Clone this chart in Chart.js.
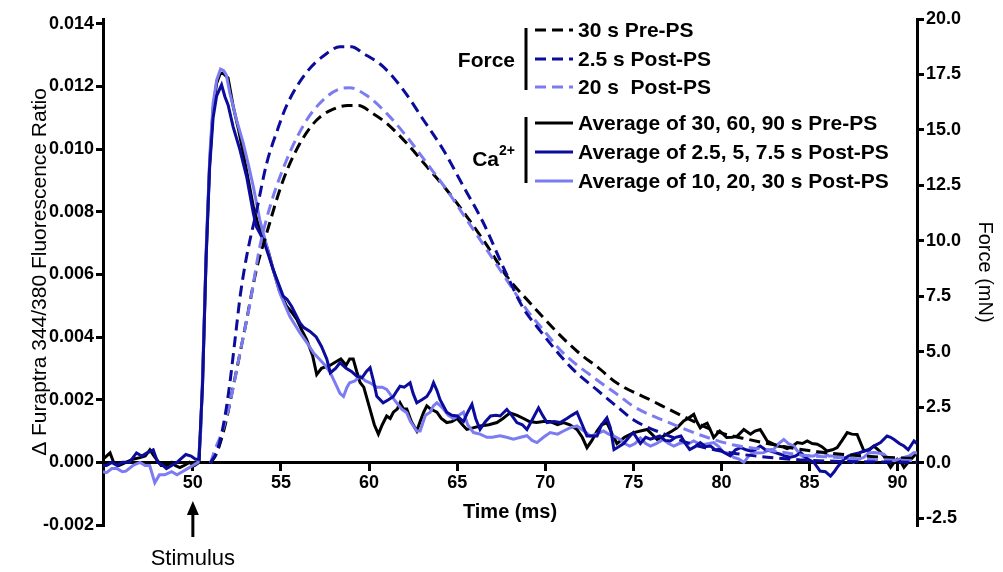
<!DOCTYPE html>
<html>
<head>
<meta charset="utf-8">
<script src="https://cdn.jsdelivr.net/npm/chart.js@4.4.1/dist/chart.umd.min.js"></script>
<style>
  html, body { margin: 0; padding: 0; background: #fff; }
  canvas { display: block; }
</style>
</head>
<body>
<canvas id="chart" width="1003" height="572"></canvas>
<script>
// [time (ms), value] pairs
const caPreAvg = [
  [44.9, 0.0001], [45.1, 0.0002], [45.3, 0.0003], [45.5, 0.0], [45.8, -0.0001], [46.2, 0.0],
  [46.6, 0.0001], [47.0, 0.00015], [47.3, 0.0002], [47.56, 0.0004], [47.8, 0.0002], [48.2, -0.0001],
  [48.5, -0.0001], [48.8, 0.0], [49.0, -0.0001], [49.26, -0.00017], [49.5, -0.0001], [49.8, 0.0],
  [50.1, -0.0001], [50.35, 0.0], [50.55, 0.0025], [50.75, 0.0065], [50.95, 0.0095], [51.15, 0.0113],
  [51.35, 0.0121], [51.55, 0.0124], [51.7, 0.01242], [52.0, 0.01227], [52.29, 0.01136], [52.6, 0.0106],
  [52.86, 0.00987], [53.15, 0.009], [53.43, 0.00817], [53.7, 0.0076], [54.0, 0.00721], [54.3, 0.0067],
  [54.56, 0.00615], [54.9, 0.0055], [55.32, 0.00498], [55.6, 0.0048], [55.9, 0.00456], [56.2, 0.0042],
  [56.46, 0.00392], [56.8, 0.0034], [57.03, 0.0028], [57.3, 0.003], [57.8, 0.0031], [58.1, 0.0032],
  [58.4, 0.0033], [58.7, 0.0031], [58.9, 0.0033], [59.1, 0.0033], [59.3, 0.0029], [59.49, 0.00255],
  [59.7, 0.0024], [60.0, 0.0018], [60.3, 0.0012], [60.53, 0.0009], [60.75, 0.0012], [61.0, 0.00148],
  [61.2, 0.0014], [61.38, 0.0016], [61.6, 0.0017], [61.76, 0.0019], [61.95, 0.0017], [62.14, 0.0017],
  [62.4, 0.0013], [62.71, 0.001], [62.9, 0.0013], [63.1, 0.0016], [63.28, 0.0018], [63.5, 0.0017],
  [63.85, 0.0016], [64.1, 0.0014], [64.41, 0.00127], [64.7, 0.0013], [65.0, 0.0014], [65.3, 0.0012],
  [65.55, 0.00105], [65.9, 0.0011], [66.3, 0.00116], [66.8, 0.0012], [67.26, 0.00127], [67.6, 0.0014],
  [68.0, 0.00158], [68.4, 0.0015], [68.77, 0.0014], [69.1, 0.0013], [69.5, 0.00127], [69.9, 0.0013],
  [70.28, 0.0013], [70.7, 0.0012], [71.04, 0.00127], [71.4, 0.0012], [71.8, 0.00105], [72.1, 0.0008],
  [72.37, 0.00047], [72.65, 0.0007], [72.94, 0.001], [73.2, 0.0012], [73.5, 0.00127], [73.8, 0.0009],
  [74.07, 0.0006], [74.5, 0.0008], [75.02, 0.00095], [75.4, 0.001], [75.78, 0.00105], [76.05, 0.0009],
  [76.35, 0.00073], [76.6, 0.0008], [76.9, 0.0009], [77.2, 0.001], [77.48, 0.0011], [77.86, 0.00132],
  [78.1, 0.0014], [78.43, 0.00153], [78.6, 0.0013], [78.8, 0.0011], [79.0, 0.0012], [79.19, 0.00125],
  [79.4, 0.001], [79.56, 0.00079], [79.9, 0.001], [80.1, 0.0009], [80.3, 0.00079], [80.6, 0.0008],
  [80.9, 0.00084], [81.27, 0.00105], [81.65, 0.0009], [81.9, 0.001], [82.2, 0.00105], [82.6, 0.00068],
  [82.9, 0.0006], [83.17, 0.00052], [83.45, 0.0005], [83.73, 0.00044], [84.0, 0.0005], [84.3, 0.00063],
  [84.6, 0.0006], [84.87, 0.00068], [85.15, 0.0006], [85.44, 0.00058], [85.7, 0.0005], [86.0, 0.00036],
  [86.3, 0.0004], [86.57, 0.00047], [86.85, 0.0007], [87.14, 0.00095], [87.4, 0.0009], [87.7, 0.00089],
  [88.09, 0.00036], [88.35, 0.0004], [88.65, 0.00052], [88.9, 0.0004], [89.22, 0.0002], [89.6, -0.00016],
  [89.8, 0.0], [89.98, 0.0001], [90.2, 0.0], [90.36, -0.00016], [90.6, 0.0], [90.93, 0.0002], [91.1, 0.0003]
];

const caEarlyPostAvg = [
  [44.9, -0.0001], [45.1, -0.0001], [45.4, 0.0], [45.7, -0.0001], [46.0, 0.0], [46.4, 0.0],
  [46.8, 0.0003], [47.1, 0.0002], [47.4, 0.0003], [47.75, 0.0004], [48.0, 0.0], [48.3, -0.0001],
  [48.5, -0.0002], [48.8, -0.0001], [49.1, 0.0], [49.3, 0.0001], [49.6, 0.00025], [49.9, 0.0002],
  [50.15, 0.0001], [50.35, 0.0001], [50.55, 0.0025], [50.75, 0.0065], [50.95, 0.0094], [51.15, 0.011],
  [51.35, 0.0117], [51.63, 0.01205], [51.82, 0.01167], [52.0, 0.01141], [52.29, 0.0107], [52.67, 0.00998],
  [53.05, 0.00912], [53.43, 0.00796], [53.6, 0.00753], [54.0, 0.0071], [54.3, 0.0066], [54.56, 0.00615],
  [55.13, 0.0053], [55.35, 0.0052], [55.6, 0.00498], [56.08, 0.00445], [56.3, 0.0043], [56.65, 0.00418],
  [57.0, 0.004], [57.3, 0.0037], [57.6, 0.0033], [57.8, 0.00286], [58.1, 0.003], [58.35, 0.00318],
  [58.7, 0.003], [59.0, 0.0029], [59.3, 0.00275], [59.6, 0.0027], [59.85, 0.0029], [60.06, 0.00302],
  [60.25, 0.0026], [60.44, 0.00211], [60.8, 0.0019], [61.1, 0.002], [61.38, 0.0021], [61.6, 0.0023],
  [61.76, 0.00243], [62.0, 0.0024], [62.33, 0.00254], [62.5, 0.0022], [62.71, 0.0019], [63.0, 0.002],
  [63.28, 0.0021], [63.5, 0.0023], [63.66, 0.00254], [63.85, 0.0023], [64.03, 0.002], [64.41, 0.0016],
  [64.7, 0.0015], [65.0, 0.00148], [65.36, 0.0013], [65.6, 0.0016], [65.84, 0.00185], [66.05, 0.0014],
  [66.3, 0.00105], [66.6, 0.0013], [66.9, 0.00148], [67.2, 0.0015], [67.44, 0.00148], [67.82, 0.00169],
  [68.1, 0.0015], [68.39, 0.00127], [68.7, 0.0012], [68.96, 0.00105], [69.3, 0.0014], [69.62, 0.00174],
  [69.85, 0.0015], [70.1, 0.00127], [70.5, 0.0013], [70.85, 0.00127], [71.23, 0.0014], [71.5, 0.0015],
  [71.8, 0.0016], [72.1, 0.0012], [72.37, 0.00084], [72.94, 0.00084], [73.2, 0.0012], [73.5, 0.00142],
  [73.7, 0.0011], [73.9, 0.00041], [74.17, 0.0005], [74.45, 0.0006], [74.75, 0.0008], [75.0, 0.00095],
  [75.4, 0.0006], [75.7, 0.0008], [75.97, 0.00074], [76.5, 0.00084], [76.8, 0.0007], [77.1, 0.00068],
  [77.4, 0.0008], [77.7, 0.00084], [77.95, 0.0006], [78.2, 0.00041], [78.5, 0.0005], [78.8, 0.00063],
  [79.1, 0.0005], [79.38, 0.00052], [79.65, 0.0004], [79.9, 0.00041], [80.2, 0.0003], [80.5, 0.00021],
  [80.8, 0.0004], [81.1, 0.00047], [81.4, 0.0004], [81.65, 0.00036], [81.9, 0.0004], [82.2, 0.00052],
  [82.5, 0.0004], [82.8, 0.00036], [83.1, 0.0003], [83.35, 0.00026], [83.6, 0.0002], [83.9, 0.00016],
  [84.2, 0.0002], [84.5, 0.00031], [84.9, 0.0001], [85.25, 0.0], [85.6, -0.00028], [85.9, -0.0003],
  [86.19, -0.00044], [86.4, -0.0003], [86.57, -0.00016], [86.95, 0.0001], [87.2, 0.0002], [87.5, 0.00026],
  [87.8, 0.0003], [88.1, 0.00036], [88.4, 0.0004], [88.65, 0.00052], [89.03, 0.00063], [89.4, 0.00084],
  [89.6, 0.0008], [89.8, 0.00073], [90.1, 0.0006], [90.36, 0.00052], [90.6, 0.0004], [90.93, 0.00068],
  [91.1, 0.0006]
];

const caLatePostAvg = [
  [44.9, -0.0003], [45.1, -0.00033], [45.4, -0.0002], [45.7, -0.0002], [46.0, -0.0003], [46.2, -0.00028],
  [46.6, -0.0001], [47.0, 0.0], [47.3, -0.0001], [47.55, -0.0001], [47.84, -0.00065], [48.1, -0.0004],
  [48.4, -0.0004], [48.8, -0.0003], [49.1, -0.0004], [49.4, -0.0003], [49.7, -0.0002], [50.0, -0.0001],
  [50.3, 0.0], [50.45, 0.001], [50.59, 0.0035], [50.78, 0.0072], [50.97, 0.00988], [51.15, 0.01146],
  [51.35, 0.0122], [51.57, 0.01255], [51.75, 0.0125], [51.9, 0.01236], [52.1, 0.01178], [52.48, 0.01093],
  [52.86, 0.01019], [53.15, 0.0095], [53.43, 0.0088], [53.8, 0.00774], [54.1, 0.0071], [54.4, 0.00647],
  [54.94, 0.0054], [55.5, 0.00466], [56.08, 0.00413], [56.5, 0.0038], [56.84, 0.0035], [57.2, 0.00328],
  [57.5, 0.0031], [57.8, 0.00286], [58.16, 0.00243], [58.35, 0.0022], [58.55, 0.0021], [58.75, 0.0024],
  [58.9, 0.00254], [59.2, 0.0026], [59.49, 0.00275], [59.8, 0.0026], [60.06, 0.00254], [60.44, 0.0024],
  [60.75, 0.0024], [61.0, 0.00233], [61.3, 0.0021], [61.57, 0.0019], [61.85, 0.0017], [62.14, 0.00158],
  [62.35, 0.0013], [62.52, 0.00116], [62.7, 0.001], [62.9, 0.001], [63.2, 0.0015], [63.47, 0.0016],
  [63.65, 0.0018], [63.85, 0.0019], [64.05, 0.0018], [64.22, 0.0017], [64.5, 0.0015], [64.8, 0.0014],
  [65.1, 0.0015], [65.36, 0.0016], [65.6, 0.0012], [65.93, 0.00095], [66.3, 0.0009], [66.69, 0.0008],
  [67.0, 0.0008], [67.44, 0.00085], [67.8, 0.0008], [68.2, 0.00074], [68.6, 0.0008], [68.96, 0.00085],
  [69.25, 0.0007], [69.53, 0.00063], [69.9, 0.0008], [70.28, 0.00095], [70.7, 0.0009], [71.04, 0.001],
  [71.4, 0.0011], [71.8, 0.00116], [72.2, 0.001], [72.56, 0.00084], [72.9, 0.0009], [73.3, 0.001],
  [73.6, 0.0009], [73.9, 0.00084], [74.26, 0.00073], [74.5, 0.0006], [74.8, 0.00052], [75.1, 0.0006],
  [75.4, 0.00078], [75.7, 0.0006], [75.97, 0.00052], [76.3, 0.0006], [76.7, 0.00073], [77.0, 0.0006],
  [77.3, 0.00052], [77.6, 0.0006], [77.86, 0.00063], [78.15, 0.0006], [78.43, 0.00068], [78.7, 0.0006],
  [79.0, 0.00057], [79.3, 0.0006], [79.56, 0.00063], [79.85, 0.0005], [80.13, 0.00031], [80.4, 0.0003],
  [80.7, 0.00016], [81.0, 0.0001], [81.27, 0.0], [81.55, 0.0002], [81.84, 0.00031], [82.1, 0.0003],
  [82.4, 0.00031], [82.7, 0.0004], [82.97, 0.00042], [83.25, 0.0006], [83.54, 0.00073], [83.8, 0.0006],
  [84.1, 0.00052], [84.4, 0.0003], [84.68, 0.00016], [84.95, 0.0002], [85.25, 0.0002], [85.5, 0.0003],
  [85.8, 0.00031], [86.1, 0.0002], [86.38, 0.0002], [86.65, 0.0002], [86.95, 0.00016], [87.2, 0.0001],
  [87.5, 0.0], [87.8, 0.0001], [88.09, 0.00016], [88.35, 0.0003], [88.65, 0.00031], [88.9, 0.0003],
  [89.22, 0.00026], [89.5, 0.0001], [89.8, 0.00005], [90.1, 0.0001], [90.36, 0.00016], [90.65, 0.0002],
  [90.93, 0.00031], [91.1, 0.0003]
];

// force in mN
const forcePre30 = [
  [51.0, 0], [51.35, 0.44], [51.8, 1.6], [52.29, 3.44], [53.05, 6.44], [53.6, 8.69], [54.19, 10.35],
  [55.13, 12.75], [56.08, 14.4], [57.03, 15.45], [58.0, 15.95], [58.8, 16.1], [59.4, 16.1], [60.2, 15.75],
  [61.0, 15.3], [62.14, 14.4], [63.28, 13.35], [64.41, 12.3], [65.55, 11.1], [66.69, 9.8], [67.82, 8.4],
  [69.15, 7.2], [70.66, 5.9], [72.0, 4.9], [72.94, 4.34], [74.07, 3.6], [75.97, 2.84], [77.86, 2.09],
  [79.75, 1.41], [81.65, 1.04], [83.54, 0.74], [85.44, 0.51], [87.3, 0.36], [89.2, 0.26], [91.1, 0.2]
];

const forcePost2_5 = [
  [51.0, 0], [51.4, 0.6], [51.8, 2.0], [52.1, 3.6], [52.4, 5.6], [52.7, 7.6], [53.05, 9.3], [53.6, 11.3],
  [54.19, 13.5], [54.8, 15.0], [55.32, 16.1], [56.46, 17.6], [57.6, 18.45], [58.35, 18.75], [59.0, 18.75],
  [59.68, 18.45], [60.8, 17.85], [61.95, 16.8], [63.09, 15.45], [64.22, 14.1], [65.36, 12.45], [66.5, 10.8],
  [67.63, 8.8], [68.77, 6.95], [69.53, 6.14], [71.42, 4.34], [72.94, 3.29], [74.07, 2.54], [75.02, 1.94],
  [76.9, 1.26], [78.8, 0.74], [80.7, 0.44], [82.6, 0.26], [84.5, 0.14], [86.4, 0.08], [91.1, 0.03]
];

const forcePost20 = [
  [51.0, 0], [51.25, 0.59], [51.7, 1.5], [52.1, 2.69], [52.67, 4.94], [53.24, 7.19], [53.8, 9.74],
  [54.38, 11.55], [55.32, 13.65], [56.46, 15.45], [57.6, 16.5], [58.35, 16.85], [58.9, 16.9], [59.87, 16.55],
  [61.0, 15.75], [62.14, 14.7], [63.28, 13.5], [64.41, 12.3], [65.55, 10.95], [66.69, 9.6], [67.82, 8.24],
  [68.96, 6.89], [69.9, 5.99], [71.04, 4.94], [72.94, 3.74], [74.26, 2.99], [75.02, 2.54], [76.9, 1.86],
  [78.8, 1.26], [80.7, 0.81], [82.6, 0.59], [84.5, 0.36], [86.4, 0.26], [88.3, 0.17], [91.1, 0.1]
];

const forceLabels = ["30 s Pre-PS", "2.5 s Post-PS", "20 s  Post-PS"];
const caLabels = ["Average of 30, 60, 90 s Pre-PS", "Average of 2.5, 5, 7.5 s Post-PS", "Average of 10, 20, 30 s Post-PS"];

const timeTicks = [50, 55, 60, 65, 70, 75, 80, 85, 90];
const ratioTicks = [-0.002, 0, 0.002, 0.004, 0.006, 0.008, 0.01, 0.012, 0.014];
const forceTicks = [-2.5, 0, 2.5, 5, 7.5, 10, 12.5, 15, 17.5, 20];

const BLACK = "#000000";
const DARK = "#0b0b9c";
const LIGHT = "#7c7cf2";
const FONT = "'Liberation Sans', Arial, sans-serif";

const toPoints = (arr) => arr.map(([x, y]) => ({ x, y }));
const fixedTicks = (list) => (scale) => {
  scale.ticks = list.map((value) => ({ value }));
};

const forceSet = (label, data, color, order) => ({
  label,
  data: toPoints(data),
  yAxisID: "y2",
  borderColor: color,
  borderWidth: 3,
  borderDash: [11, 6],
  pointRadius: 0,
  tension: 0.4,
  cubicInterpolationMode: "monotone",
  fill: false,
  order,
});

const caSet = (label, data, color, order) => ({
  label,
  data: toPoints(data),
  yAxisID: "y",
  borderColor: color,
  borderWidth: 3,
  pointRadius: 0,
  tension: 0,
  fill: false,
  order,
});

// grouped legend, stimulus arrow and x title
const extrasPlugin = {
  id: "extras",
  afterDraw(chart) {
    const ctx = chart.ctx;
    const ds = chart.data.datasets;
    ctx.save();
    ctx.fillStyle = "#000";
    ctx.textBaseline = "middle";

    const rows = [
      [0, 30], [1, 59], [2, 87],
      [3, 123], [4, 152], [5, 181],
    ];
    rows.forEach(([i, y]) => {
      ctx.beginPath();
      ctx.setLineDash(ds[i].borderDash || []);
      ctx.strokeStyle = ds[i].borderColor;
      ctx.lineWidth = 3;
      ctx.moveTo(535, y);
      ctx.lineTo(573, y);
      ctx.stroke();
      ctx.setLineDash([]);
      ctx.font = "bold 21px " + FONT;
      ctx.textAlign = "left";
      ctx.fillText(ds[i].label, 578, y + 1);
    });

    ctx.strokeStyle = "#000";
    ctx.lineWidth = 3;
    ctx.beginPath();
    ctx.moveTo(526, 28);
    ctx.lineTo(526, 90);
    ctx.moveTo(526, 117);
    ctx.lineTo(526, 183);
    ctx.stroke();

    ctx.font = "bold 21px " + FONT;
    ctx.textAlign = "right";
    ctx.fillText("Force", 515, 61);
    ctx.font = "bold 14px " + FONT;
    ctx.textAlign = "left";
    ctx.fillText("2+", 499, 151);
    ctx.font = "bold 21px " + FONT;
    ctx.textAlign = "right";
    ctx.fillText("Ca", 499, 160);

    // x axis title
    ctx.font = "bold 20px " + FONT;
    ctx.textAlign = "center";
    ctx.fillText("Time (ms)", (chart.chartArea.left + chart.chartArea.right) / 2, 512);

    // stimulus arrow
    const sx = chart.scales.x.getPixelForValue(50);
    ctx.beginPath();
    ctx.lineWidth = 3;
    ctx.moveTo(sx, 537);
    ctx.lineTo(sx, 510);
    ctx.stroke();
    ctx.beginPath();
    ctx.moveTo(sx, 501);
    ctx.lineTo(sx - 6, 515);
    ctx.lineTo(sx + 6, 515);
    ctx.closePath();
    ctx.fill();
    ctx.font = "22px " + FONT;
    ctx.fillText("Stimulus", sx, 559);
    ctx.restore();
  },
};

const tickFont = { family: FONT, size: 18, weight: "bold" };

new Chart(document.getElementById("chart"), {
  type: "line",
  data: {
    datasets: [
      forceSet(forceLabels[0], forcePre30, BLACK, 2),
      forceSet(forceLabels[1], forcePost2_5, DARK, 0),
      forceSet(forceLabels[2], forcePost20, LIGHT, 1),
      caSet(caLabels[0], caPreAvg, BLACK, 5),
      caSet(caLabels[1], caEarlyPostAvg, DARK, 3),
      caSet(caLabels[2], caLatePostAvg, LIGHT, 4),
    ],
  },
  options: {
    responsive: false,
    animation: false,
    layout: { padding: { top: 19, left: 0, right: 0, bottom: 47 } },
    plugins: {
      legend: { display: false },
      tooltip: { enabled: false },
    },
    scales: {
      x: {
        type: "linear",
        position: { y: 0 },
        min: 44.9,
        max: 91.1,
        afterBuildTicks: fixedTicks(timeTicks),
        border: { color: "#000", width: 3 },
        grid: { drawOnChartArea: false, drawTicks: true, tickLength: 7, color: "#000", lineWidth: 3 },
        ticks: { font: tickFont, color: "#000", padding: 3, maxRotation: 0, autoSkip: false },
      },
      y: {
        position: "left",
        min: -0.002,
        max: 0.01415,
        afterFit: (s) => { s.width = 103; },
        afterBuildTicks: fixedTicks(ratioTicks),
        border: { color: "#000", width: 3 },
        grid: { drawOnChartArea: false, drawTicks: true, tickLength: 7, color: "#000", lineWidth: 3 },
        ticks: { font: tickFont, color: "#000", padding: 2, callback: (v) => v.toFixed(3) },
        title: { display: true, text: "\u0394 Furaptra 344/380 Fluorescence Ratio", color: "#000", font: { family: FONT, size: 21 }, padding: { top: 28, bottom: 0 } },
      },
      y2: {
        position: "right",
        min: -2.793,
        max: 20,
        afterFit: (s) => { s.width = 86; },
        afterBuildTicks: fixedTicks(forceTicks),
        border: { color: "#000", width: 3 },
        grid: { drawOnChartArea: false, drawTicks: true, tickLength: 7, color: "#000", lineWidth: 3 },
        ticks: { font: tickFont, color: "#000", padding: 2, callback: (v) => v.toFixed(1) },
        title: { display: true, text: "Force (mN)", color: "#000", font: { family: FONT, size: 20 }, padding: { top: 6, bottom: 0 } },
      },
    },
  },
  plugins: [extrasPlugin],
});
</script>
</body>
</html>
